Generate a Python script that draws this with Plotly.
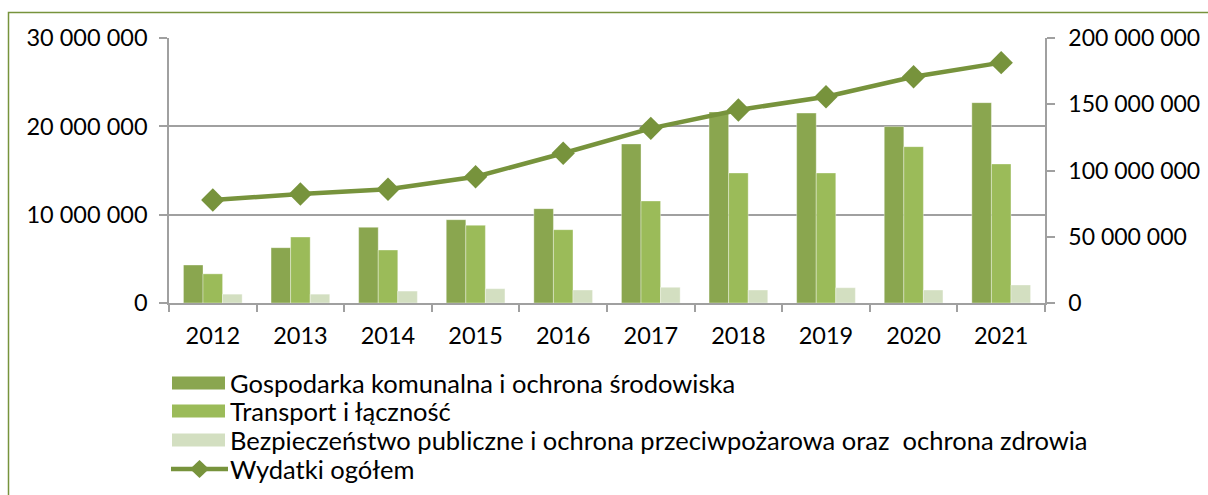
import plotly.graph_objects as go

years = ["2012", "2013", "2014", "2015", "2016", "2017", "2018", "2019", "2020", "2021"]
gospodarka = [4.3e6, 6.26e6, 8.57e6, 9.43e6, 10.68e6, 18.0e6, 21.63e6, 21.5e6, 19.97e6, 22.68e6]
transport = [3.3e6, 7.47e6, 6.0e6, 8.8e6, 8.3e6, 11.55e6, 14.72e6, 14.72e6, 17.7e6, 15.74e6]
bezpieczenstwo = [1.0e6, 1.0e6, 1.35e6, 1.62e6, 1.47e6, 1.78e6, 1.47e6, 1.73e6, 1.47e6, 2.04e6]
wydatki = [77.7e6, 82.3e6, 85.8e6, 95.3e6, 113.0e6, 131.8e6, 145.7e6, 155.7e6, 170.8e6, 181.4e6]

names = [
    "Gospodarka komunalna i ochrona środowiska",
    "Transport i łączność",
    "Bezpieczeństwo publiczne i ochrona przeciwpożarowa oraz  ochrona zdrowia",
    "Wydatki ogółem",
]
bar_colors = ["#8AA64F", "#9BBB59", "#D3DFC1"]
line_color = "#77933C"
grid_color = "#A0A0A0"
FONT = "Lato"

W, H = 1208, 495
L, R, T, B = 169, 1045, 38, 303


def px_x(px):
    return (px - L) / (R - L)


def px_y(py):
    return (B - py) / (B - T)


fig = go.Figure()
for vals, nm, col in zip([gospodarka, transport, bezpieczenstwo], names[:3], bar_colors):
    fig.add_trace(go.Bar(x=years, y=vals, name=nm,
                         marker=dict(color=col, line=dict(width=0.6, color="rgba(255,255,255,0.6)")),
                         yaxis="y", showlegend=False))
fig.add_trace(go.Scatter(x=years, y=wydatki, name=names[3], mode="lines+markers",
                         line=dict(color=line_color, width=4.5),
                         marker=dict(symbol="diamond", size=18, color=line_color),
                         yaxis="y2", showlegend=False))

shapes = []
annotations = []
# outer border
shapes.append(dict(type="rect", xref="paper", yref="paper", x0=px_x(8.5), x1=px_x(1215), y0=px_y(505), y1=px_y(12.5),
                   line=dict(color="#77933C", width=1.5), fillcolor="rgba(0,0,0,0)", layer="below"))

rows = [383, 411, 440, 469]
for i, py in enumerate(rows):
    if i < 3:
        shapes.append(dict(type="rect", xref="paper", yref="paper", x0=px_x(172), x1=px_x(225),
                           y0=px_y(py + 6.5), y1=px_y(py - 6.5), line=dict(width=0), fillcolor=bar_colors[i]))
    else:
        shapes.append(dict(type="line", xref="paper", yref="paper", x0=px_x(171), x1=px_x(228),
                           y0=px_y(py), y1=px_y(py), line=dict(width=4.5, color=line_color)))
        shapes.append(dict(type="path", xref="paper", yref="paper",
                           path="M {0},{1} L {2},{3} L {4},{1} L {2},{5} Z".format(
                               px_x(190), px_y(py), px_x(199.5), px_y(py - 9), px_x(209), px_y(py + 9)),
                           line=dict(width=0), fillcolor=line_color))
    annotations.append(dict(xref="paper", yref="paper", x=px_x(228), y=px_y(py), xanchor="left", yanchor="middle",
                            text=names[i], showarrow=False, font=dict(family=FONT, size=25.5, color="#000000")))

fig.update_layout(
    width=W, height=H,
    margin=dict(l=L, r=W - R, t=T, b=H - B, autoexpand=False),
    paper_bgcolor="white", plot_bgcolor="white",
    separators=", ",
    barmode="group", bargap=0.33, bargroupgap=0,
    font=dict(family=FONT, size=24, color="#000000"),
    xaxis=dict(type="category", range=[-0.5, len(years) - 0.5], showline=True, linecolor=grid_color, linewidth=1.5,
               ticks="outside", tickson="boundaries", ticklen=7, tickcolor=grid_color, tickwidth=1.5, showgrid=False,
               ticklabelstandoff=11, tickfont=dict(size=23.5)),
    yaxis=dict(range=[0, 30e6], dtick=10e6, tickformat=",d", showline=True, linecolor=grid_color, linewidth=1.5,
               ticks="outside", ticklen=8, tickcolor=grid_color, tickwidth=1.5, showgrid=True,
               gridcolor=grid_color, gridwidth=1.5, zeroline=False, ticklabelstandoff=7, tickfont=dict(size=23.5)),
    yaxis2=dict(range=[0, 200e6], dtick=50e6, tickformat=",d", overlaying="y", side="right", showline=True,
                linecolor=grid_color, linewidth=1.5, ticks="outside", ticklen=8, tickcolor=grid_color, tickwidth=1.5,
                showgrid=False, zeroline=False, ticklabelstandoff=9, tickfont=dict(size=23)),
    shapes=shapes,
    annotations=annotations,
    showlegend=False,
)

fig.write_html("out.html", config={"displayModeBar": False},
               post_script="document.body.style.margin='0';document.body.style.overflow='hidden';")
